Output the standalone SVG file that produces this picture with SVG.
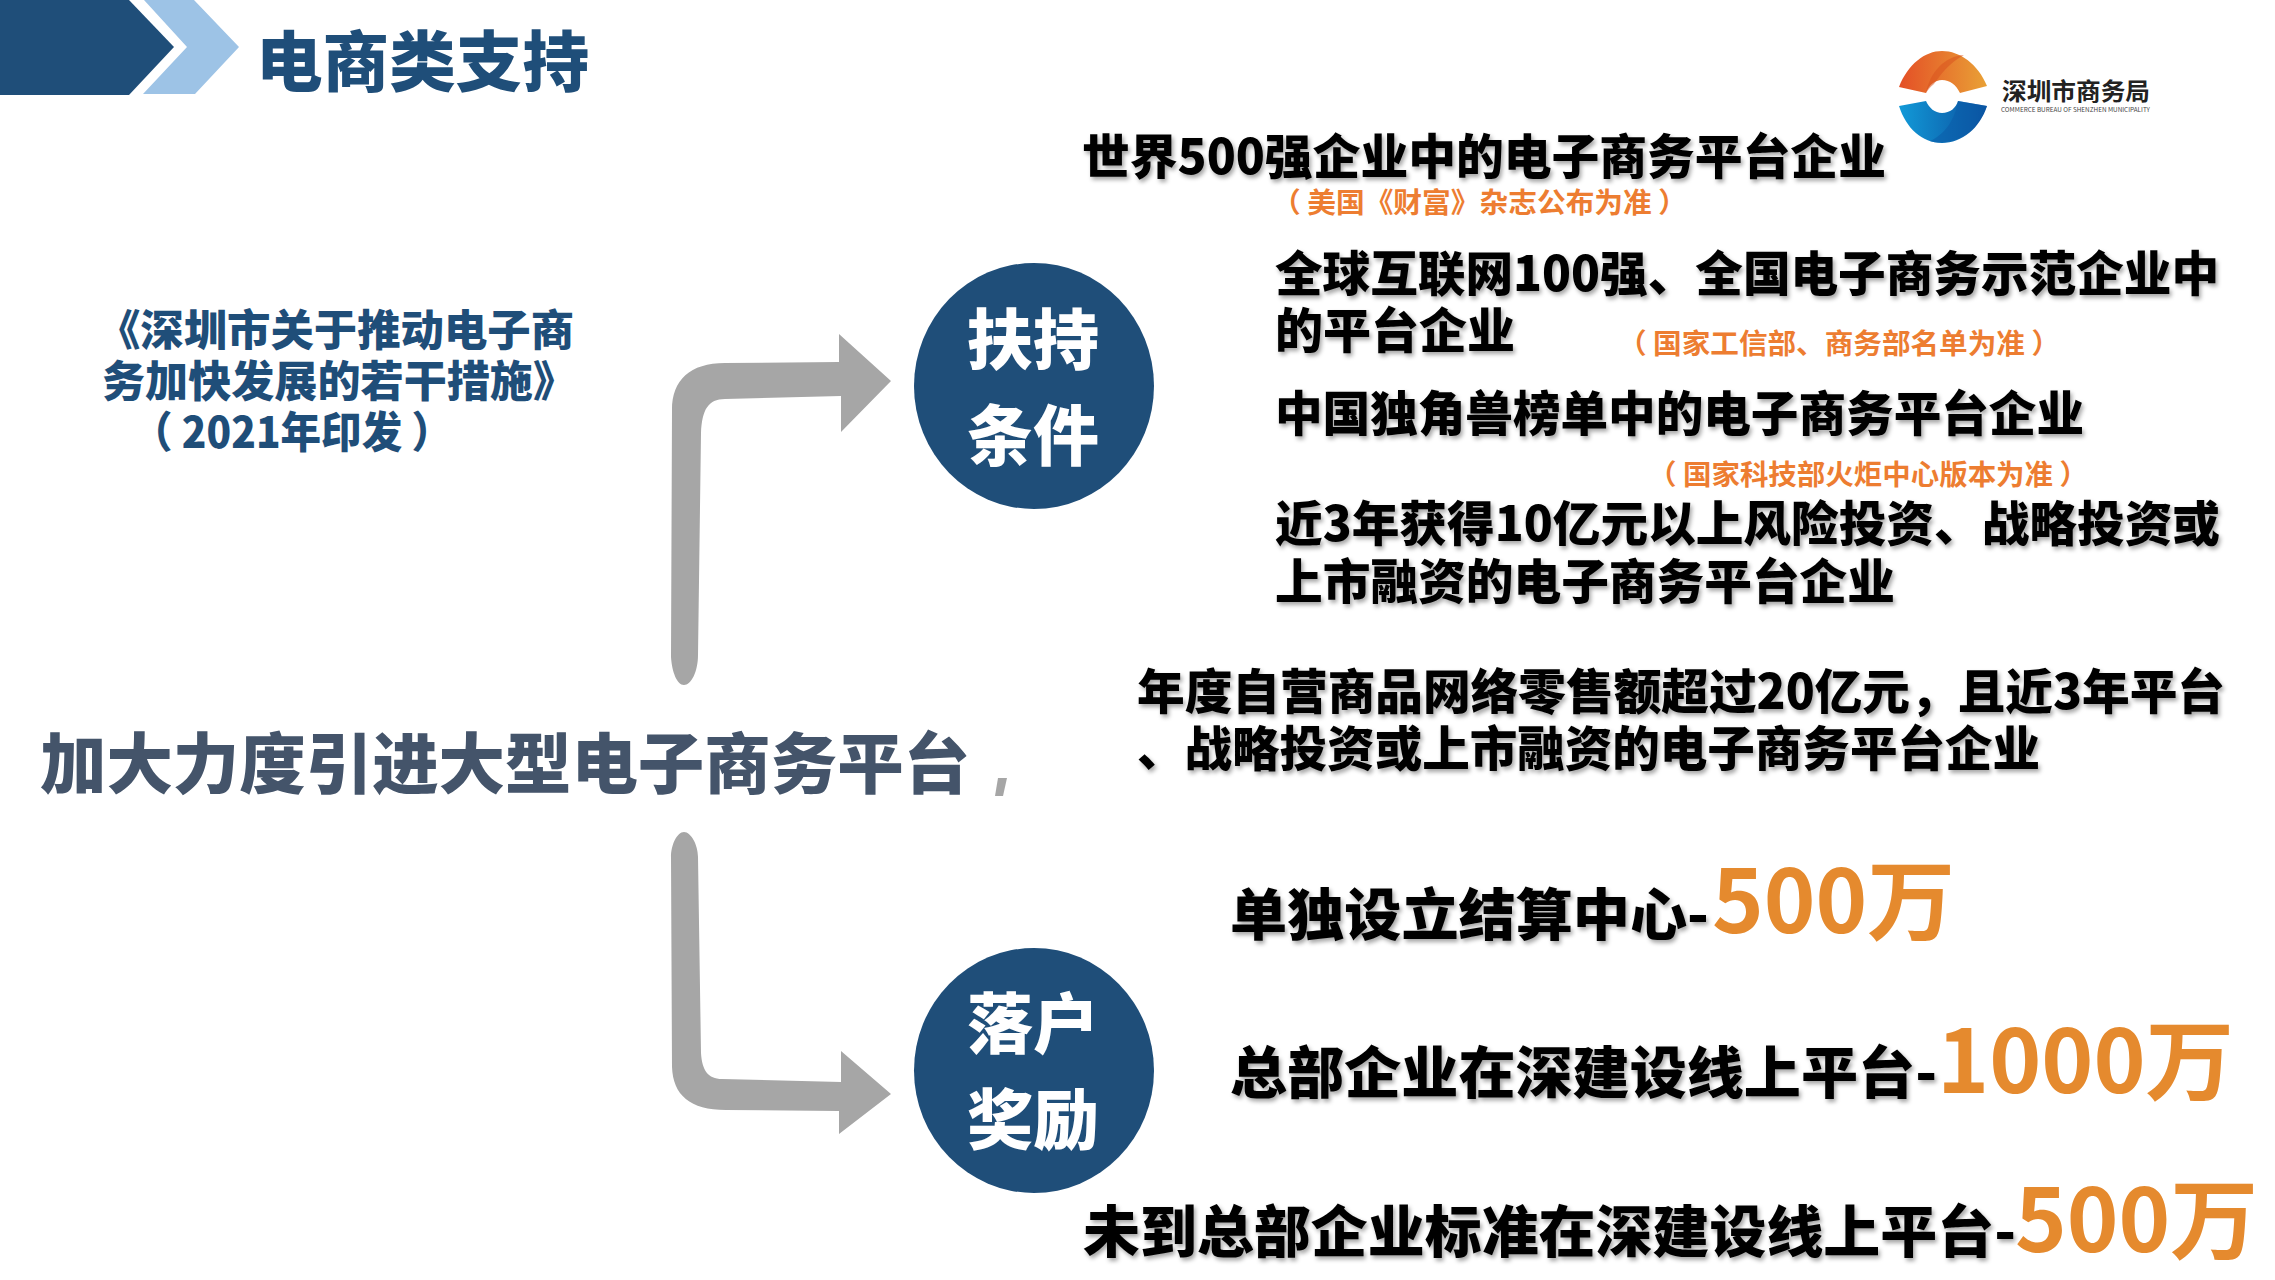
<svg xmlns="http://www.w3.org/2000/svg" width="2275" height="1280" viewBox="0 0 2275 1280">
<defs>
<filter id="sh" x="-5%" y="-20%" width="110%" height="150%"><feDropShadow dx="2" dy="3" stdDeviation="2" flood-color="#000" flood-opacity="0.35"/></filter>
<linearGradient id="lo" x1="0" y1="0" x2="1" y2="0"><stop offset="0" stop-color="#e44f26"/><stop offset="1" stop-color="#e9a136"/></linearGradient>
<linearGradient id="lb" x1="0" y1="0" x2="1" y2="0"><stop offset="0" stop-color="#129ad8"/><stop offset="1" stop-color="#0b4f9e"/></linearGradient>
</defs>
<style>
text{font-family:"Noto Sans CJK SC","Noto Sans",sans-serif;font-weight:900}
.k{fill:#000;font-size:48px;filter:url(#sh)}
.s{fill:#ed7d31;font-size:28px;font-weight:700}
.b{fill:#000;font-size:56px;filter:url(#sh)}
.o{fill:#e58a2e;font-size:88px;font-weight:700}
.n{fill:#1f4e79;font-size:43px}
.w{fill:#fff;font-size:66px;text-anchor:middle}
.c{fill:#1f4e79}
.a{fill:#a6a6a6}
</style>
<rect width="2275" height="1280" fill="#fff"/>
<g id="header">
<polygon points="0,0 129,0 174,47 129,95 0,95" fill="#1f4e79"/>
<polygon points="144,0 194,0 239,47 195,94 143,94 187,47" fill="#9dc3e6"/>
<text x="256" y="86" font-size="66" fill="#1f4e79" textLength="333" lengthAdjust="spacingAndGlyphs">电商类支持</text>
</g>
<g id="logo">
<path d="M1899,87 C1908,64 1925,51 1942,51 C1960,51 1978,64 1987,86 L1960,93 C1956,85 1950,80 1942,80 C1935,80 1929,85 1926,93 Z" fill="url(#lo)"/>
<path d="M1926,93 C1930,72 1945,56 1964,55 C1950,62 1940,75 1934,84 C1930,87 1928,90 1926,93 Z" fill="#d9531f" opacity="0.55"/>
<path d="M1899,106 L1926,101 C1929,108 1935,113 1942,113 C1950,113 1956,108 1958,101 L1987,106 C1980,128 1962,143 1942,143 C1922,143 1906,128 1899,106 Z" fill="url(#lb)"/>
<path d="M1958,101 C1955,122 1942,136 1930,141 C1945,146 1965,138 1972,128 C1980,120 1985,112 1987,106 Z" fill="#0b5ba8" opacity="0.55"/>
<text x="2002" y="100" font-size="24" fill="#222" textLength="148" lengthAdjust="spacingAndGlyphs" style="font-weight:700">深圳市商务局</text>
<text x="2001" y="112" font-size="6.5" fill="#444" textLength="149" lengthAdjust="spacingAndGlyphs" style="font-weight:400">COMMERCE BUREAU OF SHENZHEN MUNICIPALITY</text>
</g>
<g id="policy-title">
<text class="n" x="97" y="346" textLength="477" lengthAdjust="spacingAndGlyphs">《深圳市关于推动电子商</text>
<text class="n" x="102" y="397" textLength="474" lengthAdjust="spacingAndGlyphs">务加快发展的若干措施》</text>
<text class="n" x="132" y="448" textLength="320" lengthAdjust="spacingAndGlyphs">（ 2021年印发 ）</text>
</g>
<g id="main-topic">
<text x="40" y="788" font-size="66" fill="#44546a" textLength="930" lengthAdjust="spacingAndGlyphs">加大力度引进大型电子商务平台</text>
<polygon points="998,778 1007,778 1003,796 995,796" class="a"/>
</g>
<g id="connectors">
<path class="a" d="M891,381 L839,334 L839,362 L725,363 C690,363 672,380 672,410 L671,657 C672,672 677,685 684,685 C691,685 698,672 698,655 L701,433 C702,410 708,399 725,399 L841,396 L841,432 Z"/>
<path class="a" d="M891,1094 L841,1051 L841,1082 L722,1079 C708,1079 702,1070 701,1053 L698,857 C698,845 691,832 684,832 C677,832 671,845 671,857 L672,1067 C673,1095 690,1110 726,1110 L839,1111 L839,1134 Z"/>
</g>
<g id="node-support">
<ellipse class="c" cx="1034" cy="386" rx="120" ry="123"/>
<text class="w" x="1033" y="364">扶持</text>
<text class="w" x="1033" y="460">条件</text>
</g>
<g id="node-reward">
<ellipse class="c" cx="1034" cy="1070.5" rx="120" ry="122.5"/>
<text class="w" x="1033" y="1048">落户</text>
<text class="w" x="1033" y="1144">奖励</text>
</g>
<g id="conditions">
<text class="k" x="1082" y="174" textLength="804" lengthAdjust="spacingAndGlyphs">世界500强企业中的电子商务平台企业</text>
<text class="s" x="1272" y="213" textLength="415" lengthAdjust="spacingAndGlyphs">（ 美国《财富》杂志公布为准 ）</text>
<text class="k" x="1275" y="291" textLength="944" lengthAdjust="spacingAndGlyphs">全球互联网100强、全国电子商务示范企业中</text>
<text class="k" x="1275" y="348" textLength="240" lengthAdjust="spacingAndGlyphs">的平台企业</text>
<text class="s" x="1618" y="354" textLength="442" lengthAdjust="spacingAndGlyphs">（ 国家工信部、商务部名单为准 ）</text>
<text class="k" x="1275" y="431" textLength="809" lengthAdjust="spacingAndGlyphs">中国独角兽榜单中的电子商务平台企业</text>
<text class="s" x="1648" y="485" textLength="440" lengthAdjust="spacingAndGlyphs">（ 国家科技部火炬中心版本为准 ）</text>
<text class="k" x="1275" y="541" textLength="945" lengthAdjust="spacingAndGlyphs">近3年获得10亿元以上风险投资、战略投资或</text>
<text class="k" x="1275" y="599" textLength="620" lengthAdjust="spacingAndGlyphs">上市融资的电子商务平台企业</text>
<text class="k" x="1137" y="709" textLength="1088" lengthAdjust="spacingAndGlyphs">年度自营商品网络零售额超过20亿元，且近3年平台</text>
<text class="k" x="1137" y="766" textLength="903" lengthAdjust="spacingAndGlyphs">、战略投资或上市融资的电子商务平台企业</text>
</g>
<g id="rewards">
<text class="b" x="1230" y="935" textLength="479" lengthAdjust="spacingAndGlyphs">单独设立结算中心-</text>
<text class="o" x="1712" y="933" textLength="243" lengthAdjust="spacingAndGlyphs">500万</text>
<text class="b" x="1230" y="1093" textLength="707" lengthAdjust="spacingAndGlyphs">总部企业在深建设线上平台-</text>
<text class="o" x="1937" y="1093" textLength="297" lengthAdjust="spacingAndGlyphs">1000万</text>
<text class="b" x="1083" y="1252" textLength="933" lengthAdjust="spacingAndGlyphs">未到总部企业标准在深建设线上平台-</text>
<text class="o" x="2015" y="1252" textLength="243" lengthAdjust="spacingAndGlyphs">500万</text>
</g>
</svg>
